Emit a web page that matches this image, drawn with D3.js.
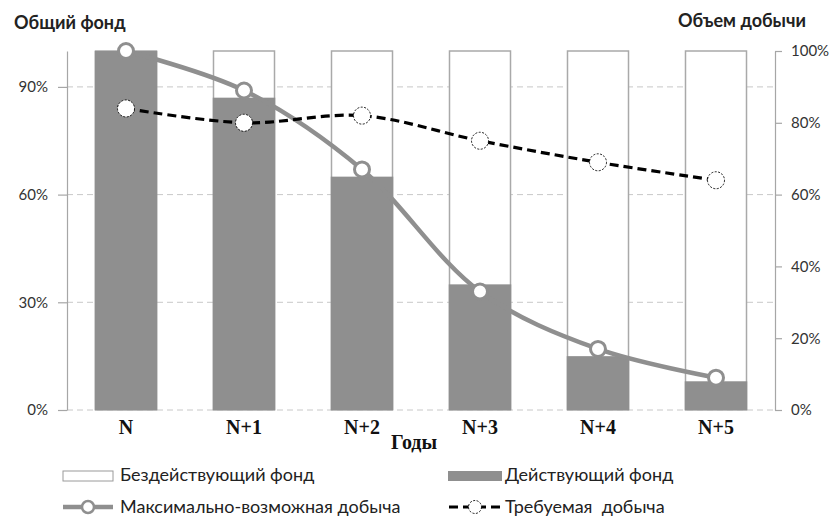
<!DOCTYPE html>
<html><head><meta charset="utf-8">
<script src="https://cdnjs.cloudflare.com/ajax/libs/d3/7.8.5/d3.min.js"></script>
<style>body{margin:0;background:#fff}svg{display:block}</style>
</head><body>
<svg id="c" width="837" height="517"></svg>
<script>
const categories = ["N","N+1","N+2","N+3","N+4","N+5"];
const totalFund = [1,1,1,1,1,1];
const activeFund = [1.00,0.87,0.65,0.35,0.15,0.08];
const maxProduction = [1.00,0.89,0.67,0.33,0.17,0.09];
const requiredProduction = [0.84,0.80,0.82,0.75,0.69,0.64];
const leftTicks = [0,0.3,0.6,0.9];
const rightTicks = [0,0.2,0.4,0.6,0.8,1.0];
const leftTitle = "Общий фонд";
const rightTitle = "Объем добычи";
const xTitle = "Годы";
const legendLabels = ["Бездействующий фонд","Действующий фонд","Максимально-возможная добыча","Требуемая  добыча"];

const svg = d3.select("#c");
const sans = "Lato, 'Open Sans', sans-serif";
const serif = "'Liberation Serif','Times New Roman',serif";
const x = d3.scaleBand().domain(categories).range([67,775]).paddingInner(0.483).paddingOuter(0.2415);
const yL = d3.scaleLinear().domain([0,1]).range([410,51]);
const yR = d3.scaleLinear().domain([0,1]).range([410,51]);

// gridlines
svg.append("g").selectAll("line").data(leftTicks).join("line")
  .attr("x1",67).attr("x2",775).attr("y1",d=>yL(d)).attr("y2",d=>yL(d))
  .attr("stroke","#c8c8c8").attr("stroke-width",1).attr("stroke-dasharray","6,4");

// bars
svg.append("g").selectAll("rect").data(categories).join("rect")
  .attr("x",d=>x(d)).attr("width",x.bandwidth())
  .attr("y",(d,i)=>yL(totalFund[i])).attr("height",(d,i)=>yL(0)-yL(totalFund[i]))
  .attr("fill","#fff").attr("stroke","#a9a9a9").attr("stroke-width",1.5);
svg.append("g").selectAll("rect").data(categories).join("rect")
  .attr("x",d=>x(d)-0.75).attr("width",x.bandwidth()+1.5)
  .attr("y",(d,i)=>yL(activeFund[i])).attr("height",(d,i)=>yL(0)-yL(activeFund[i]))
  .attr("fill","#8f8f8f");

// axes
const axL = svg.append("g").attr("transform","translate(67,0)")
  .call(d3.axisLeft(yL).tickValues(leftTicks).tickFormat(d3.format(".0%")).tickSize(9).tickSizeOuter(0).tickPadding(10));
const axR = svg.append("g").attr("transform","translate(775,0)")
  .call(d3.axisRight(yR).tickValues(rightTicks).tickFormat(d3.format(".0%")).tickSize(7).tickSizeOuter(0).tickPadding(9));
[axL,axR].forEach(a=>{
  a.select(".domain").attr("stroke","#a6a6a6").attr("stroke-width",1.2);
  a.selectAll(".tick line").attr("stroke","#a6a6a6").attr("stroke-width",1.2);
  a.selectAll(".tick text").attr("font-family",sans).attr("font-size",15).attr("fill","#333");
});

// x labels
svg.append("g").selectAll("text").data(categories).join("text")
  .attr("x",d=>x(d)+x.bandwidth()/2).attr("y",434).attr("text-anchor","middle")
  .attr("font-family",serif).attr("font-weight","bold").attr("font-size",20)
  .attr("fill","#111").text(d=>d);
svg.append("text").attr("x",414).attr("y",449).attr("text-anchor","middle")
  .attr("font-family",serif).attr("font-weight","bold").attr("font-size",20)
  .attr("fill","#111").text(xTitle);

// titles
svg.append("text").attr("x",14).attr("y",29).attr("font-family",sans).attr("font-weight","bold").attr("font-size",18).attr("fill","#222").text(leftTitle);
svg.append("text").attr("x",678).attr("y",27).attr("font-family",sans).attr("font-weight","bold").attr("font-size",18).attr("fill","#222").text(rightTitle);

// lines
const cx = d=>x(d)+x.bandwidth()/2;
const lineMax = d3.line().x((d,i)=>cx(categories[i])).y(d=>yR(d)).curve(d3.curveCatmullRom.alpha(0.5));
svg.append("path").attr("d",lineMax(maxProduction)).attr("fill","none").attr("stroke","#8f8f8f").attr("stroke-width",4.5);
const lineReq = d3.line().x((d,i)=>cx(categories[i])).y(d=>yR(d)).curve(d3.curveCatmullRom.alpha(0.5));
svg.append("path").attr("d",lineReq(requiredProduction)).attr("fill","none").attr("stroke","#000").attr("stroke-width",3.2).attr("stroke-dasharray","9,5");

svg.append("g").selectAll("circle").data(maxProduction).join("circle")
  .attr("cx",(d,i)=>cx(categories[i])).attr("cy",d=>yR(d)).attr("r",7.5)
  .attr("fill","#fff").attr("stroke","#8f8f8f").attr("stroke-width",3);
svg.append("g").selectAll("circle").data(requiredProduction).join("circle")
  .attr("cx",(d,i)=>cx(categories[i])).attr("cy",d=>yR(d)).attr("r",8.5)
  .attr("fill","#fff").attr("stroke","#000").attr("stroke-width",0.9).attr("stroke-dasharray","2,1.5");

// legend
const lg = svg.append("g").attr("font-family",sans).attr("font-size",18).attr("fill","#222");
lg.append("rect").attr("x",63).attr("y",471).attr("width",50).attr("height",10).attr("fill","#fff").attr("stroke","#9a9a9a").attr("stroke-width",1);
lg.append("text").attr("x",120).attr("y",481).text(legendLabels[0]);
lg.append("rect").attr("x",448).attr("y",471).attr("width",54).attr("height",10).attr("fill","#8f8f8f");
lg.append("text").attr("x",505).attr("y",481).text(legendLabels[1]);
lg.append("line").attr("x1",63).attr("x2",113).attr("y1",507).attr("y2",507).attr("stroke","#8f8f8f").attr("stroke-width",4.5);
lg.append("circle").attr("cx",88).attr("cy",507).attr("r",6).attr("fill","#fff").attr("stroke","#8f8f8f").attr("stroke-width",2.5);
lg.append("text").attr("x",120).attr("y",512.5).text(legendLabels[2]);
lg.append("line").attr("x1",448).attr("x2",502).attr("y1",507).attr("y2",507).attr("stroke","#000").attr("stroke-width",3.2).attr("stroke-dasharray","9,5").attr("stroke-dashoffset",-1);
lg.append("circle").attr("cx",475).attr("cy",507).attr("r",6.5).attr("fill","#fff").attr("stroke","#000").attr("stroke-width",0.9).attr("stroke-dasharray","2,1.5");
lg.append("text").attr("x",505).attr("y",512.5).style("white-space","pre").text(legendLabels[3]);
</script>
</body></html>
